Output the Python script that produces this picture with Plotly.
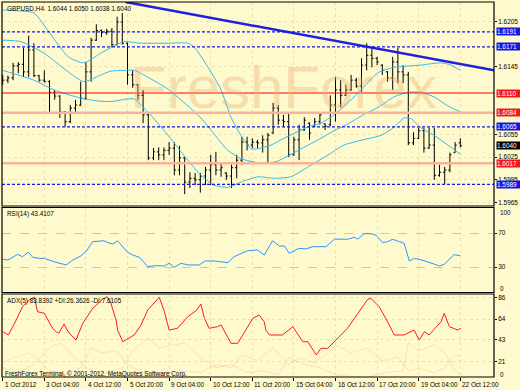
import plotly.graph_objects as go

# ---------------- data ----------------
bars = list(range(89))
opens = [1.6130,1.6127,1.6130,1.6146,1.6148,1.6138,1.6167,1.6133,1.6127,1.6125,
         1.6111,1.6106,1.6085,1.6072,1.6090,1.6094,1.6103,1.6138,1.6180,1.6193,
         1.6190,1.6192,1.6174,1.6204,1.6176,1.6134,1.6121,1.6107,1.6081,1.6024,
         1.6032,1.6028,1.6034,1.6037,1.6008,1.6024,1.5992,1.5997,1.5995,1.6000,
         1.6008,1.6015,1.6008,1.6004,1.6000,1.6011,1.6021,1.6045,1.6041,1.6045,
         1.6044,1.6048,1.6057,1.6090,1.6074,1.6072,1.6028,1.6048,1.6061,1.6070,
         1.6066,1.6072,1.6069,1.6068,1.6094,1.6114,1.6107,1.6114,1.6127,1.6119,
         1.6147,1.6160,1.6156,1.6147,1.6138,1.6130,1.6151,1.6138,1.6134,1.6044,
         1.6050,1.6060,1.6037,1.6041,1.6001,1.6005,1.6008,1.6031,1.6044]
highs = [1.6134,1.6133,1.6150,1.6151,1.6170,1.6186,1.6176,1.6134,1.6140,1.6127,
         1.6114,1.6107,1.6086,1.6094,1.6101,1.6125,1.6151,1.6183,1.6201,1.6194,
         1.6195,1.6196,1.6211,1.6216,1.6177,1.6140,1.6122,1.6114,1.6084,1.6037,
         1.6038,1.6038,1.6045,1.6045,1.6040,1.6025,1.6005,1.6004,1.6004,1.6012,
         1.6028,1.6032,1.6017,1.6005,1.6015,1.6028,1.6052,1.6052,1.6050,1.6048,
         1.6054,1.6057,1.6097,1.6094,1.6081,1.6084,1.6052,1.6068,1.6078,1.6071,
         1.6077,1.6084,1.6070,1.6107,1.6131,1.6127,1.6121,1.6134,1.6130,1.6156,
         1.6176,1.6171,1.6158,1.6148,1.6139,1.6158,1.6170,1.6147,1.6138,1.6058,
         1.6064,1.6064,1.6064,1.6064,1.6015,1.6012,1.6031,1.6045,1.6050]
lows = [1.6121,1.6123,1.6127,1.6136,1.6131,1.6131,1.6131,1.6125,1.6124,1.6084,
        1.6101,1.6077,1.6065,1.6070,1.6084,1.6093,1.6101,1.6125,1.6179,1.6184,
        1.6187,1.6171,1.6173,1.6174,1.6121,1.6117,1.6101,1.6070,1.6021,1.6021,
        1.6021,1.6021,1.6028,1.6001,1.6001,1.5976,1.5984,1.5988,1.5978,1.5988,
        1.5988,1.6001,1.5999,1.5995,1.5984,1.5997,1.6015,1.6034,1.6037,1.6037,
        1.6031,1.6017,1.6056,1.6068,1.6065,1.6025,1.6027,1.6021,1.6060,1.6048,
        1.6065,1.6068,1.6061,1.6066,1.6072,1.6091,1.6106,1.6113,1.6117,1.6111,
        1.6140,1.6144,1.6147,1.6134,1.6125,1.6114,1.6123,1.6123,1.6041,1.6041,
        1.6049,1.6031,1.6036,1.5995,1.5999,1.5989,1.6005,1.6031,1.6038]
closes = [1.6127,1.6130,1.6146,1.6148,1.6138,1.6167,1.6133,1.6127,1.6125,1.6111,
          1.6106,1.6085,1.6072,1.6090,1.6094,1.6103,1.6138,1.6180,1.6193,1.6190,
          1.6192,1.6174,1.6204,1.6176,1.6134,1.6121,1.6107,1.6081,1.6024,1.6032,
          1.6028,1.6034,1.6037,1.6008,1.6024,1.5992,1.5997,1.5995,1.6000,1.6008,
          1.6015,1.6008,1.6011,1.6000,1.6011,1.6021,1.6045,1.6041,1.6045,1.6044,
          1.6048,1.6054,1.6090,1.6074,1.6072,1.6028,1.6048,1.6061,1.6074,1.6057,
          1.6072,1.6081,1.6066,1.6094,1.6114,1.6107,1.6114,1.6127,1.6119,1.6147,
          1.6160,1.6156,1.6151,1.6140,1.6130,1.6151,1.6138,1.6134,1.6044,1.6050,
          1.6060,1.6037,1.6041,1.6001,1.6005,1.6008,1.6028,1.6041,1.6040]

bb_up_x = [0, 2.9, 6.0, 9.3, 12.6, 15.6, 18.9, 20.8, 23.3, 26.6, 31.8, 35.6, 36.8, 39.5, 42.0, 43.9,
           45.8, 47.8, 49.7, 51.6, 54.1, 58.7, 61.2, 63.7, 66.4, 69.3, 72.2, 75.3, 80.4, 84.3, 86.2, 88.0]
bb_up_y = [1.6220, 1.6219, 1.6216, 1.6187, 1.6158, 1.6150, 1.6163, 1.6170, 1.6178, 1.6176, 1.6176,
           1.6176, 1.6171, 1.6144, 1.6114, 1.6078, 1.6054, 1.6036, 1.6037, 1.6041, 1.6050, 1.6065,
           1.6070, 1.6081, 1.6097, 1.6117, 1.6137, 1.6144, 1.6147, 1.6150, 1.6147, 1.6140]
bb_mid_x = [0, 3.5, 7.9, 12.6, 15.6, 18.9, 20.8, 23.7, 25.3, 27.9, 31.8, 35.6, 38.1, 40.6, 43.3, 45.8,
            49.7, 52.6, 56.0, 61.2, 63.7, 66.4, 69.3, 72.2, 75.3, 78.0, 80.4, 82.9, 85.6, 88.0]
bb_mid_y = [1.6180, 1.6178, 1.6163, 1.6138, 1.6125, 1.6134, 1.6139, 1.6140, 1.6140, 1.6131, 1.6115,
            1.6093, 1.6077, 1.6056, 1.6034, 1.6023, 1.6017, 1.6019, 1.6031, 1.6050, 1.6060, 1.6069,
            1.6081, 1.6091, 1.6105, 1.6111, 1.6111, 1.6105, 1.6093, 1.6085]
bb_lo_x = [0, 6.0, 9.9, 15.1, 18.9, 21.4, 23.7, 25.3, 27.9, 31.8, 35.6, 38.1, 40.6, 43.3, 45.8, 49.1,
           52.2, 55.4, 58.7, 62.6, 65.6, 69.3, 72.8, 75.3, 77.2, 78.5, 80.4, 82.9, 85.6, 88.0]
bb_lo_y = [1.6140, 1.6127, 1.6114, 1.6103, 1.6099, 1.6099, 1.6102, 1.6102, 1.6085, 1.6054, 1.6021,
           1.6001, 1.5988, 1.5985, 1.5992, 1.5999, 1.5997, 1.5999, 1.6012, 1.6028, 1.6041, 1.6048,
           1.6054, 1.6065, 1.6077, 1.6076, 1.6064, 1.6054, 1.6041, 1.6029]

trend_x = [23.6, 94.5]
trend_y = [1.62306, 1.61400]

blue_levels = [1.6191, 1.6171, 1.6065, 1.5989]
red_levels = [1.6110]
salmon_levels = [1.6084, 1.6017]
current_price = 1.6040
price_ticks = [1.6205, 1.6145, 1.6055, 1.6025, 1.5995, 1.5965]

rsi_x = [0, 1, 2.9, 3.8, 4.9, 5.8, 7, 8, 9.9, 12.2, 13.5, 15, 16, 17.3, 19.5, 20.2, 21.2, 22.1, 24, 25,
         26.3, 27.9, 29.2, 31.1, 32, 33, 34.3, 35.6, 37.8, 38.9, 40.7, 42.6, 43.3, 44.5, 47.1, 49, 50.3,
         51.9, 53.2, 54.2, 55.1, 57, 58.3, 59.6, 62.2, 63.8, 66.3, 67.6, 68.3, 69.5, 70.8, 71.8, 73.1,
         74, 75, 76.3, 77.2, 78.2, 79.2, 81.1, 82.3, 84, 84.9, 86.8, 88]
rsi_y = [39.1, 38.2, 44.9, 42.1, 47.3, 41.4, 40.2, 40.2, 36.2, 32.4, 38.2, 42.9, 48.0, 59.8, 60.9, 58.6,
         57.1, 60.9, 47.3, 44.1, 41.4, 30.4, 31.5, 31.2, 34.4, 29.6, 34.4, 32.4, 32.4, 37.1, 37.1, 36.2,
         35.1, 42.1, 49.2, 50.0, 44.1, 60.9, 54.7, 54.7, 46.1, 52.0, 51.2, 53.9, 53.9, 62.9, 62.6, 64.9,
         62.9, 69.2, 69.2, 67.3, 58.6, 59.8, 62.6, 59.8, 57.9, 37.1, 40.2, 37.4, 35.1, 31.2, 33.2, 44.5,
         43.4]

adx_x = [0, 1.1, 2.6, 3.8, 5.1, 6.1, 6.7, 8, 9.6, 10.3, 10.8, 11.8, 12.4, 13.1, 14.1, 15.4, 17.3, 19.2,
         20.1, 20.8, 21.8, 22.1, 23.1, 25.3, 26.6, 27.9, 30.1, 31.1, 32, 33.6, 35.6, 37.2, 38.1, 38.8,
         39.7, 41.3, 42, 43.9, 45.2, 47.1, 48.1, 49.3, 50.3, 50.6, 51.3, 53.8, 55.8, 57.7, 58.7, 60.3,
         61.2, 62.5, 64.4, 66.3, 68.3, 70.2, 70.8, 72.4, 74, 75.3, 77.2, 79.1, 80.1, 81.1, 82, 84.3,
         84.9, 85.9, 87.5, 88.1]
adx_y = [51.3, 48.0, 63.1, 76.6, 83.3, 86.1, 71.5, 69.9, 54.7, 51.0, 50.0, 59.1, 53.0, 48.0, 42.9, 59.8,
         74.9, 84.0, 86.7, 80.0, 63.1, 53.0, 41.2, 48.0, 58.1, 73.2, 86.1, 71.5, 53.0, 54.7, 66.5, 72.5,
         79.3, 64.8, 54.7, 56.4, 58.1, 39.6, 39.6, 56.4, 64.8, 68.2, 61.4, 53.0, 48.0, 48.0, 56.4, 41.2,
         41.2, 27.8, 34.5, 34.5, 44.6, 54.7, 69.9, 84.0, 85.1, 76.6, 61.4, 48.0, 48.0, 53.0, 42.9, 51.3,
         48.0, 61.4, 69.9, 56.4, 53.0, 54.7]
pdi_x = [0, 2, 5, 7, 9, 12, 15, 17, 19, 22, 24, 27, 30, 34, 38, 41, 44, 46, 49, 52, 55, 57, 60, 63, 64,
         67, 70, 73, 76, 78, 80, 83, 85, 87, 88]
pdi_y = [20, 25, 30, 22, 12, 8, 15, 35, 30, 32, 18, 10, 8, 12, 10, 18, 15, 28, 22, 35, 18, 25, 20, 32,
         38, 30, 35, 22, 26, 12, 14, 10, 15, 28, 26.4]
mdi_x = [0, 3, 6, 9, 11, 13, 16, 19, 23, 25, 28, 30, 33, 35, 38, 41, 44, 47, 50, 53, 55, 58, 61, 64, 67,
         70, 74, 77, 78, 80, 83, 85, 87, 88]
mdi_y = [15, 10, 18, 35, 40, 30, 15, 8, 15, 32, 45, 35, 38, 40, 25, 15, 18, 10, 12, 8, 25, 18, 15, 8, 6,
         5, 10, 12, 40, 32, 38, 30, 12, 7.6]

x_label_bars = [0, 8, 16, 24, 32, 40, 48, 56, 64, 72, 80, 88]
x_labels = ["1 Oct 2012", "3 Oct 04:00", "4 Oct 12:00", "5 Oct 20:00", "9 Oct 04:00", "10 Oct 12:00",
            "11 Oct 20:00", "15 Oct 04:00", "16 Oct 12:00", "17 Oct 20:00", "19 Oct 04:00", "22 Oct 12:00"]
rsi_ticks = [30, 70]
adx_ticks = [21, 43, 64, 86]

# ---------------- styling ----------------
W, H = 520, 390
BG = "#fffacd"
GRID = "#ebe2b0"
FONT = "Liberation Sans, Arial, sans-serif"
FS = 6.4
BB_COLOR = "#35b9ee"

def py(px):  # pixel row -> paper fraction
    return 1 - px / H

XDOM = [2 / W, 494 / W]
XRANGE = [-0.135, 94.48]

fig = go.Figure()

fig.add_trace(go.Ohlc(
    x=bars, open=opens, high=highs, low=lows, close=closes,
    increasing=dict(line=dict(color="black", width=1)),
    decreasing=dict(line=dict(color="black", width=1)),
    tickwidth=0.32, hoverinfo="skip", showlegend=False, xaxis="x", yaxis="y"))

for bx, by in [(bb_up_x, bb_up_y), (bb_mid_x, bb_mid_y), (bb_lo_x, bb_lo_y)]:
    fig.add_trace(go.Scatter(x=bx, y=by, mode="lines", xaxis="x", yaxis="y",
                             line=dict(color=BB_COLOR, width=1, shape="spline", smoothing=0.6),
                             hoverinfo="skip", showlegend=False))

fig.add_trace(go.Scatter(x=trend_x, y=trend_y, mode="lines", xaxis="x", yaxis="y",
                         line=dict(color="#1f1fe0", width=2.5), hoverinfo="skip", showlegend=False))

fig.add_trace(go.Scatter(x=rsi_x, y=rsi_y, mode="lines", xaxis="x2", yaxis="y2",
                         line=dict(color="#2b95ff", width=1), hoverinfo="skip", showlegend=False))

for dx, dy in [(pdi_x, pdi_y), (mdi_x, mdi_y)]:
    fig.add_trace(go.Scatter(x=dx, y=dy, mode="lines", xaxis="x3", yaxis="y3",
                             line=dict(color="rgba(238,170,110,0.30)", width=1),
                             hoverinfo="skip", showlegend=False))
fig.add_trace(go.Scatter(x=adx_x, y=adx_y, mode="lines", xaxis="x3", yaxis="y3",
                         line=dict(color="#ff1a1a", width=1), hoverinfo="skip", showlegend=False))

shapes = []
for lv in blue_levels:
    shapes.append(dict(type="line", xref="x domain", yref="y", x0=0, x1=1, y0=lv, y1=lv,
                       line=dict(color="#1414f0", width=1.2, dash="3px,2px")))
for lv in red_levels:
    shapes.append(dict(type="line", xref="x domain", yref="y", x0=0, x1=1, y0=lv, y1=lv,
                       line=dict(color="#ff0000", width=1.2)))
for lv in salmon_levels:
    shapes.append(dict(type="line", xref="x domain", yref="y", x0=0, x1=1, y0=lv, y1=lv,
                       line=dict(color="#f9b398", width=2.5)))
for xr, yr in [("x", "y"), ("x2", "y2"), ("x3", "y3")]:
    shapes.append(dict(type="rect", xref=xr + " domain", yref=yr + " domain", x0=0, x1=1, y0=0, y1=1,
                       line=dict(color="black", width=1.2)))

ann = []
# watermark
ann.append(dict(text="FreshForex", xref="paper", yref="paper", x=283 / W, y=py(88), showarrow=False,
                xanchor="center", yanchor="middle",
                font=dict(family=FONT, size=60, color="rgba(232,168,112,0.36)")))
ann.append(dict(text="GBPUSD,H4  1.6044 1.6050 1.6038 1.6040", xref="paper", yref="paper",
                x=5 / W, y=py(8.5), xanchor="left", yanchor="middle", showarrow=False,
                font=dict(family=FONT, size=FS, color="black")))
ann.append(dict(text="RSI(14) 43.4107", xref="paper", yref="paper", x=5 / W, y=py(214),
                xanchor="left", yanchor="middle", showarrow=False,
                font=dict(family=FONT, size=FS, color="black")))
ann.append(dict(text="ADX(5) 83.8392 +DI:26.3626 -DI:7.6105", xref="paper", yref="paper", x=5 / W,
                y=py(301), xanchor="left", yanchor="middle", showarrow=False,
                font=dict(family=FONT, size=FS, color="black")))
ann.append(dict(text="FreshForex Terminal, © 2001-2012, MetaQuotes Software Corp.", xref="paper",
                yref="paper", x=3 / W, y=py(373.5), xanchor="left", yanchor="middle", showarrow=False,
                font=dict(family=FONT, size=FS, color="black")))
for b, t in zip(x_label_bars, x_labels):
    ann.append(dict(text=t, xref="x3", yref="paper", x=b, y=py(384.5), xanchor="left",
                    yanchor="middle", showarrow=False, xshift=0,
                    font=dict(family=FONT, size=FS, color="black")))

def box(val, color):
    return dict(text="%.4f" % val, xref="paper", yref="y", x=496 / W, y=val, xanchor="left",
                yanchor="middle", showarrow=False, bgcolor=color, borderpad=0, width=27,
                height=7, align="left", font=dict(family=FONT, size=FS, color="white"))

for lv in blue_levels:
    ann.append(box(lv, "#1515e6"))
for lv in red_levels + salmon_levels:
    ann.append(box(lv, "#f21818"))
ann.append(box(current_price, "#000000"))

# panel edge labels
ann.append(dict(text="100", xref="paper", yref="y2", x=498 / W, y=100, yshift=-5, xanchor="left",
                yanchor="middle", showarrow=False, font=dict(family=FONT, size=FS, color="black")))
ann.append(dict(text="0", xref="paper", yref="y2", x=498 / W, y=0, yshift=4, xanchor="left",
                yanchor="middle", showarrow=False, font=dict(family=FONT, size=FS, color="black")))
ann.append(dict(text="0", xref="paper", yref="y3 domain", x=498 / W, y=0, yshift=3, xanchor="left",
                yanchor="middle", showarrow=False, font=dict(family=FONT, size=FS, color="black")))

xcommon = dict(domain=XDOM, range=XRANGE, showticklabels=False, showgrid=True, gridcolor=GRID,
               griddash="dot", gridwidth=1, zeroline=False, tickvals=x_label_bars, fixedrange=True)
ycommon = dict(side="right", showgrid=True, gridcolor=GRID, griddash="dot", zeroline=False,
               ticks="outside", ticklen=2, tickcolor="black", showline=False,
               tickfont=dict(family=FONT, size=FS, color="black"), fixedrange=True)

fig.update_layout(
    width=W, height=H, margin=dict(l=0, r=0, t=0, b=0),
    paper_bgcolor=BG, plot_bgcolor=BG, showlegend=False,
    xaxis=dict(**xcommon, anchor="y", rangeslider=dict(visible=False)),
    xaxis2=dict(**xcommon, anchor="y2", matches="x"),
    xaxis3=dict(**xcommon, anchor="y3", matches="x", ticks="outside", ticklen=3, tickcolor="black"),
    yaxis=dict(**ycommon, anchor="x", domain=[py(206), py(2)], range=[1.596028, 1.623058],
               tickvals=price_ticks, ticktext=["%.4f" % v for v in price_ticks]),
    yaxis2=dict(**{**ycommon, "gridcolor": "#cfc8a6", "griddash": "dash"}, anchor="x2",
                domain=[py(292.5), py(207.5)], range=[0, 100], tickvals=rsi_ticks,
                ticktext=[str(v) for v in rsi_ticks]),
    yaxis3=dict(**ycommon, anchor="x3", domain=[py(377), py(294)], range=[5.56, 89.39],
                tickvals=adx_ticks, ticktext=[str(v) for v in adx_ticks]),
    shapes=shapes, annotations=ann,
)

fig.write_html("out.html")
